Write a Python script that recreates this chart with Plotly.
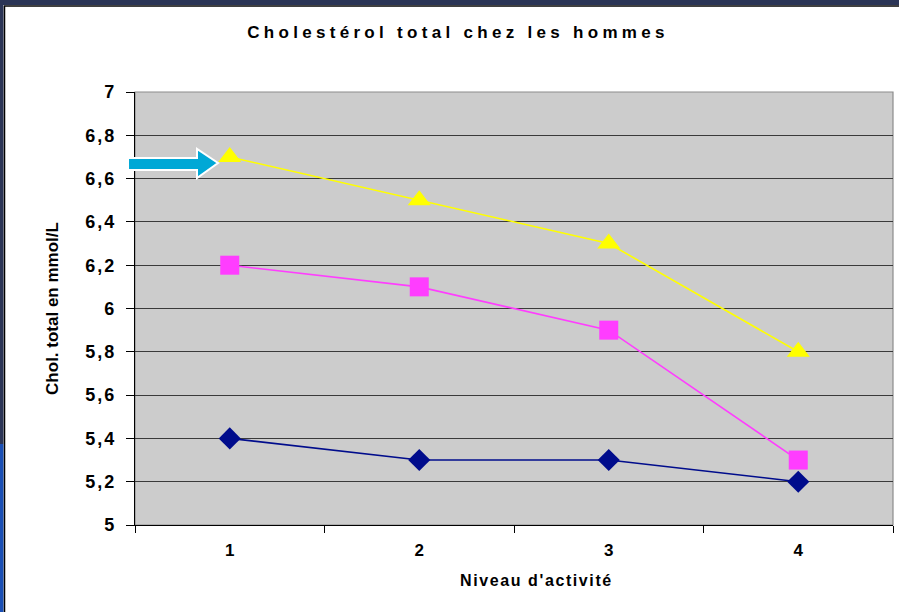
import plotly.graph_objects as go

niveaux = [1, 2, 3, 4]
serie_bleue = [5.4, 5.3, 5.3, 5.2]
serie_rose = [6.2, 6.1, 5.9, 5.3]
serie_jaune = [6.7, 6.5, 6.3, 5.8]
y_ticks = [5, 5.2, 5.4, 5.6, 5.8, 6, 6.2, 6.4, 6.6, 6.8, 7]
y_labels = ["5", "5,2", "5,4", "5,6", "5,8", "6", "6,2", "6,4", "6,6", "6,8", "7"]

W, H = 899, 612
L, R, T, B = 135, 6, 92, 87
pw, ph = W - L - R, H - T - B


def px(x):
    return (x - L) / pw


def py(y):
    return (H - B - y) / ph


def spaced(txt, sp):
    return f'<span style="letter-spacing:{sp}px">{txt}</span>'


fig = go.Figure()

series = [
    (serie_bleue, "#000c8c", "diamond", 17),
    (serie_rose, "#ff3dff", "square", 19),
    (serie_jaune, "#ffff00", "triangle-up", 20),
]
for vals, col, sym, size in series:
    fig.add_trace(go.Scatter(
        x=niveaux, y=vals, mode="lines+markers",
        line=dict(color=col, width=1.6),
        marker=dict(symbol=sym, size=size, color=col, line=dict(width=0)),
        showlegend=False, cliponaxis=False,
    ))

# block arrow pointing to the first yellow point
ax = [128, 197, 197, 218, 197, 197, 128]
ay = [158, 158, 149, 163, 178, 170, 170]
path = "M " + " L ".join(f"{px(a):.4f},{py(b):.4f}" for a, b in zip(ax, ay)) + " Z"

shapes = [
    # slide frame
    dict(type="rect", xref="paper", yref="paper", x0=px(0), x1=px(W), y0=py(0), y1=py(5),
         fillcolor="#2b3556", line_width=0, layer="below"),
    dict(type="rect", xref="paper", yref="paper", x0=px(0), x1=px(3.5), y0=py(0), y1=py(444),
         fillcolor="#2b3556", line_width=0, layer="below"),
    dict(type="rect", xref="paper", yref="paper", x0=px(0), x1=px(3.5), y0=py(444), y1=py(H),
         fillcolor="#1a4fb5", line_width=0, layer="below"),
    dict(type="line", xref="paper", yref="paper", x0=px(4), x1=px(W), y0=py(6), y1=py(6),
         line=dict(color="black", width=1.5), layer="below"),
    dict(type="line", xref="paper", yref="paper", x0=px(4.5), x1=px(4.5), y0=py(6), y1=py(H),
         line=dict(color="black", width=1.5), layer="below"),
    # plot border (grey top/right)
    dict(type="rect", xref="paper", yref="paper", x0=0, x1=1, y0=0, y1=1,
         line=dict(color="#8c8c8c", width=1.2), layer="below"),
    dict(type="path", xref="paper", yref="paper", path=path,
         fillcolor="#00a8d6", line=dict(color="white", width=2)),
]

fig.update_layout(
    width=W, height=H,
    margin=dict(l=L, r=R, t=T, b=B),
    paper_bgcolor="white", plot_bgcolor="#cccccc",
    font=dict(family="Liberation Sans, Arial", color="black"),
    title=dict(text="<b>" + spaced("Cholestérol total chez les hommes", 4.3) + "</b>",
               x=458 / W, xanchor="center", y=1 - 32 / H, yanchor="middle",
               font=dict(size=17)),
    shapes=shapes,
    annotations=[dict(
        text="<b>" + spaced("Niveau d'activité", 1.6) + "</b>",
        xref="paper", yref="paper", x=px(536), y=py(580),
        xanchor="center", yanchor="middle", showarrow=False, font=dict(size=16),
    )],
)

fig.update_xaxes(
    range=[0.5, 4.5], tickvals=niveaux, ticktext=[f"<b>{n}</b>" for n in niveaux],
    ticks="", showgrid=False, zeroline=False,
    showline=True, linecolor="black", linewidth=1.3,
    tickfont=dict(size=17), ticklabelstandoff=9,
    minor=dict(tick0=0.5, dtick=1, ticks="outside", ticklen=7, tickcolor="black", showgrid=False),
)
fig.update_yaxes(
    range=[5, 7], tickvals=y_ticks, ticktext=["<b>" + spaced(t, 2) + "</b>" for t in y_labels],
    ticks="outside", ticklen=8, tickcolor="black",
    showgrid=True, gridcolor="#3a3a3a", gridwidth=1, zeroline=False,
    showline=True, linecolor="black", linewidth=1.3,
    tickfont=dict(size=18), ticklabelstandoff=6,
    title=dict(text="<b>Chol. total en mmol/L</b>", font=dict(size=17), standoff=22),
)

fig.write_html("out.html", config={"displayModeBar": False},
               post_script="document.body.style.margin='0';")
